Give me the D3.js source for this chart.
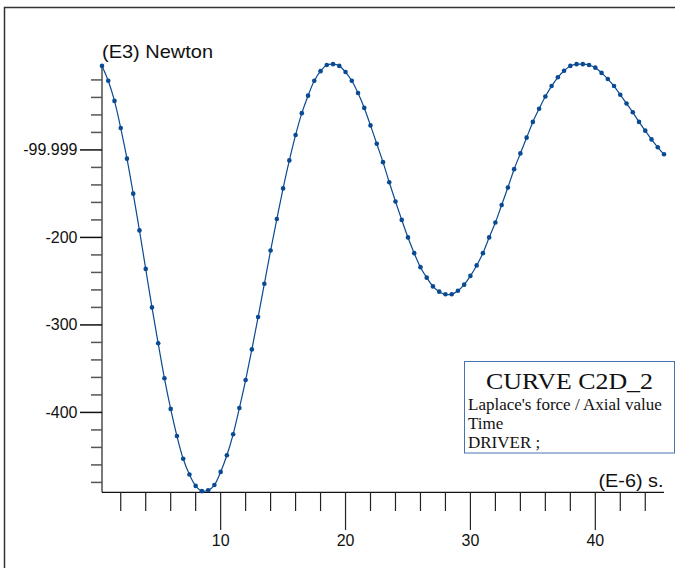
<!DOCTYPE html>
<html><head><meta charset="utf-8">
<script src="https://cdn.jsdelivr.net/npm/d3@7"></script>
<style>
html,body{margin:0;padding:0;background:#fff;overflow:hidden;}
svg{display:block;}
</style></head>
<body>
<svg id="chart" width="675" height="568"></svg>
<script>
// ---- data ----
const times = [0.5,1,1.5,2,2.5,3,3.5,4,4.5,5,5.5,6,6.5,7,7.5,8,8.5,9,9.5,10,
  10.5,11,11.5,12,12.5,13,13.5,14,14.5,15,15.5,16,16.5,17,17.5,18,18.5,19,19.5,20,
  20.5,21,21.5,22,22.5,23,23.5,24,24.5,25,25.5,26,26.5,27,27.5,28,28.5,29,29.5,30,
  30.5,31,31.5,32,32.5,33,33.5,34,34.5,35,35.5,36,36.5,37,37.5,38,38.5,39,39.5,40,
  40.5,41,41.5,42,42.5,43,43.5,44,44.5,45,45.5];
const force = [-4,-21,-44,-75,-110,-150,-192,-236,-280,-321,-361,-396,-427,-453,-471,-484,-490,-489,-483,-468,
  -449,-425,-395,-363,-328,-291,-253,-215,-179,-144,-112,-83,-58,-38,-21,-10,-3,-2,-4,-11,
  -21,-35,-52,-72,-93,-114,-137,-159,-180,-200,-218,-234,-246,-256,-262,-265,-265,-261,-254,-244,
  -232,-218,-200,-183,-163,-143,-122,-104,-86,-68,-53,-39,-27,-17,-9.5,-4,-2,-2,-3,-6,
  -12,-19,-27,-37,-47,-57,-68,-78,-88,-97,-105];
const xMajorTicks = [10,20,30,40];
const xMinorTicks = [2,4,6,8,12,14,16,18,22,24,26,28,32,34,36,38,42,44];
const yMajorTicks = [-99.999,-200,-300,-400];
const yMajorLabels = ["-99.999","-200","-300","-400"];
const yMinorTicks = [-20,-40,-60,-80,-120,-140,-160,-180,-220,-240,-260,-280,-320,-340,-360,-380,-420,-440,-460,-480];
const yTitle = "(E3) Newton";
const xTitle = "(E-6) s.";
const legendLines = ["CURVE C2D_2","Laplace's force / Axial value","Time","DRIVER ;"];

// ---- drawing ----
const svg = d3.select("#chart");
const sans = "'Liberation Sans', Arial, Helvetica, sans-serif";
const serif = "'Liberation Serif', 'Times New Roman', serif";
const curveColor = "#0a4a92";

// outer frame (extends past right/bottom edges)
svg.append("rect").attr("x",4.5).attr("y",7.5).attr("width",700).attr("height",600)
  .attr("fill","none").attr("stroke","#333").attr("stroke-width",1.5);

const x = d3.scaleLinear().domain([0.5,45.5]).range([102,664]);
const y = d3.scaleLinear().domain([-491.3,-1.8]).range([492.3,64]);

// y axis
svg.append("line").attr("x1",102).attr("x2",102).attr("y1",y(-1.8)).attr("y2",y(-491.3))
  .attr("stroke","#7a7a7a").attr("stroke-width",2);
const yMinG = svg.append("g");
yMinG.selectAll("line").data(yMinorTicks).join("line")
  .attr("x1",91).attr("x2",102).attr("y1",d=>y(d)).attr("y2",d=>y(d))
  .attr("stroke","#555").attr("stroke-width",1.5);
const yMajG = svg.append("g");
yMajG.selectAll("line").data(yMajorTicks).join("line")
  .attr("x1",80).attr("x2",102).attr("y1",d=>y(d)).attr("y2",d=>y(d))
  .attr("stroke","#111").attr("stroke-width",1.5);
yMajG.selectAll("text").data(yMajorTicks).join("text")
  .attr("x",77.5).attr("y",d=>y(d)+5.5).attr("text-anchor","end")
  .attr("font-family",sans).attr("font-size",16).attr("fill","#111")
  .text((d,i)=>yMajorLabels[i]);

// x axis
svg.append("line").attr("x1",102).attr("x2",664).attr("y1",492.3).attr("y2",492.3)
  .attr("stroke","#111").attr("stroke-width",1.2);
svg.append("g").selectAll("line").data(xMinorTicks).join("line")
  .attr("x1",d=>x(d)).attr("x2",d=>x(d)).attr("y1",492.3).attr("y2",511)
  .attr("stroke","#222").attr("stroke-width",1.2);
const xMajG = svg.append("g");
xMajG.selectAll("line").data(xMajorTicks).join("line")
  .attr("x1",d=>x(d)).attr("x2",d=>x(d)).attr("y1",492.3).attr("y2",530)
  .attr("stroke","#222").attr("stroke-width",1.2);
xMajG.selectAll("text").data(xMajorTicks).join("text")
  .attr("x",d=>x(d)).attr("y",546).attr("text-anchor","middle")
  .attr("font-family",sans).attr("font-size",16).attr("fill","#111")
  .text(d=>d);

// titles
svg.append("text").attr("x",102).attr("y",58).attr("font-family",sans).attr("font-size",19)
  .attr("textLength",111).attr("lengthAdjust","spacingAndGlyphs").attr("fill","#111").text(yTitle);
svg.append("text").attr("x",598.5).attr("y",487).attr("font-family",sans).attr("font-size",19)
  .attr("textLength",65).attr("lengthAdjust","spacingAndGlyphs").attr("fill","#111").text(xTitle);

// curve
const pts = times.map((t,i)=>[t,force[i]]);
svg.append("path").datum(pts)
  .attr("d", d3.line().x(d=>x(d[0])).y(d=>y(d[1])).curve(d3.curveCatmullRom))
  .attr("fill","none").attr("stroke",curveColor).attr("stroke-width",1.2);
svg.append("g").selectAll("circle").data(pts).join("circle")
  .attr("cx",d=>x(d[0])).attr("cy",d=>y(d[1])).attr("r",2.3).attr("fill",curveColor);

// legend box
const lg = svg.append("g");
lg.append("rect").attr("x",464.5).attr("y",361.5).attr("width",210).attr("height",91.5)
  .attr("fill","#fff").attr("stroke","#4a72b0").attr("stroke-width",1);
lg.append("text").attr("x",486).attr("y",389).attr("font-family",serif).attr("font-size",23)
  .attr("textLength",167).attr("lengthAdjust","spacingAndGlyphs").attr("fill","#111").text(legendLines[0]);
const small = [[legendLines[1],410],[legendLines[2],429],[legendLines[3],448]];
lg.selectAll("text.s").data(small).join("text").attr("class","s")
  .attr("x",468).attr("y",d=>d[1]).attr("font-family",serif).attr("font-size",17)
  .attr("fill","#111").text(d=>d[0]);
</script>
</body></html>
